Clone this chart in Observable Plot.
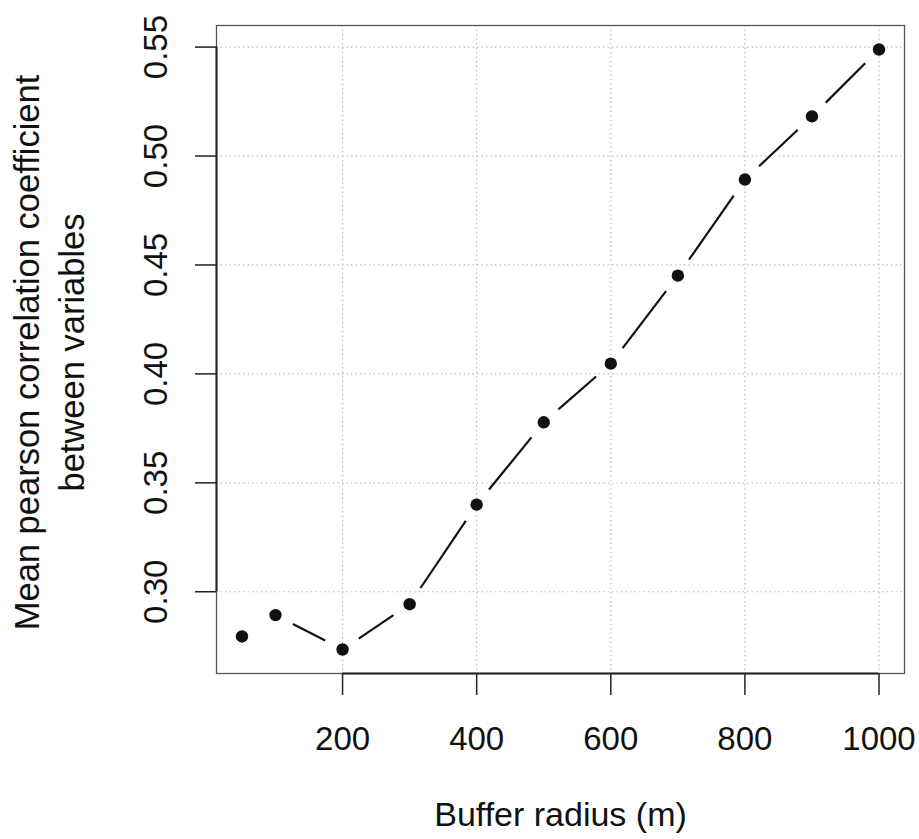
<!DOCTYPE html>
<html>
<head>
<meta charset="utf-8">
<script src="https://cdn.jsdelivr.net/npm/d3@7"></script>
<script src="https://cdn.jsdelivr.net/npm/@observablehq/plot@0.6"></script>
<style>
  html, body { margin: 0; padding: 0; background: #fff; }
  #chart { width: 919px; height: 839px; }
</style>
</head>
<body>
<div id="chart"></div>
<script>
// ---- data ----
const radius = [50, 100, 200, 300, 400, 500, 600, 700, 800, 900, 1000];
const meanCorr = [0.2795, 0.2893, 0.2735, 0.2943, 0.3400, 0.3778, 0.4047, 0.4451, 0.4892, 0.5182, 0.5489];
const xTicks = [200, 400, 600, 800, 1000];
const xTickLabels = ["200", "400", "600", "800", "1000"];
const yTicks = [0.30, 0.35, 0.40, 0.45, 0.50, 0.55];
const yTickLabels = ["0.30", "0.35", "0.40", "0.45", "0.50", "0.55"];
const xTitle = "Buffer radius (m)";
const yTitle = "Mean pearson correlation coefficient\nbetween variables";

// ---- derived tables ----
const points = radius.map((r, i) => ({r, v: meanCorr[i]}));
const segments = radius.slice(0, -1).map((r, i) => ({
  x1: r, y1: meanCorr[i], x2: radius[i + 1], y2: meanCorr[i + 1]
}));
const xTickData = xTicks.map((v, i) => ({v, label: xTickLabels[i]}));
const yTickData = yTicks.map((v, i) => ({v, label: yTickLabels[i]}));

// R-style 4% range extension
function ext(arr) {
  const lo = d3.min(arr), hi = d3.max(arr), d = (hi - lo) * 0.04;
  return [lo - d, hi + d];
}
const xDomain = ext(radius);
const yDomain = ext(meanCorr);

const font = "'Liberation Sans', Arial, Helvetica, sans-serif";
const ink = "#111";
const GAP = 19.5;

// shorten each segment by GAP pixels at both ends (like R type = "b")
function gapRender(index, scales, values, dimensions, context, next) {
  const {x1, y1, x2, y2} = values;
  const nx1 = Array.from(x1), ny1 = Array.from(y1), nx2 = Array.from(x2), ny2 = Array.from(y2);
  const keep = [];
  for (const i of index) {
    const dx = x2[i] - x1[i], dy = y2[i] - y1[i];
    const L = Math.hypot(dx, dy);
    if (L <= 2 * GAP + 3) continue;
    const ux = dx / L, uy = dy / L;
    nx1[i] = x1[i] + ux * GAP; ny1[i] = y1[i] + uy * GAP;
    nx2[i] = x2[i] - ux * GAP; ny2[i] = y2[i] - uy * GAP;
    keep.push(i);
  }
  return next(keep, scales, {...values, x1: nx1, y1: ny1, x2: nx2, y2: ny2}, dimensions, context);
}

const chart = Plot.plot({
  width: 919,
  height: 839,
  marginLeft: 216,
  marginRight: 15,
  marginTop: 25,
  marginBottom: 166,
  style: {fontFamily: font, fontSize: "33px", background: "#fff", color: ink},
  x: {domain: xDomain, axis: null},
  y: {domain: yDomain, axis: null},
  marks: [
    Plot.gridX(xTicks, {stroke: "#bdbdbd", strokeOpacity: 1, strokeWidth: 1.2, strokeDasharray: "1.5,3"}),
    Plot.gridY(yTicks, {stroke: "#bdbdbd", strokeOpacity: 1, strokeWidth: 1.2, strokeDasharray: "1.5,3"}),
    Plot.frame({stroke: "#555", strokeWidth: 1.3}),
    // axis lines (from first to last tick)
    Plot.ruleY([yDomain[0]], {x1: xTicks[0], x2: xTicks[xTicks.length - 1], stroke: "#222", strokeWidth: 2}),
    Plot.ruleX([xDomain[0]], {y1: yTicks[0], y2: yTicks[yTicks.length - 1], stroke: "#222", strokeWidth: 2}),
    // tick marks
    Plot.axisX(xTicks, {tickSize: 22, tickFormat: () => "", stroke: "#222", strokeWidth: 1.5, label: null}),
    Plot.axisY(yTicks, {tickSize: 21, tickFormat: () => "", stroke: "#222", strokeWidth: 1.5, label: null}),
    // tick labels
    Plot.text(xTickData, {x: "v", text: "label", frameAnchor: "bottom", dy: 76, lineAnchor: "bottom", textAnchor: "middle", fill: ink, fontSize: 33}),
    Plot.text(yTickData, {y: "v", text: "label", frameAnchor: "left", dx: -50, rotate: -90, lineAnchor: "bottom", textAnchor: "middle", fill: ink, fontSize: 33}),
    // axis titles
    Plot.text([xTitle], {frameAnchor: "bottom", dy: 152, lineAnchor: "bottom", textAnchor: "middle", fill: ink, fontSize: 34}),
    Plot.text([yTitle], {frameAnchor: "left", dx: -133, dy: 3, rotate: -90, lineAnchor: "bottom", textAnchor: "middle", lineHeight: 1.29, fill: ink, fontSize: 34.5}),
    // data
    Plot.link(segments, {x1: "x1", y1: "y1", x2: "x2", y2: "y2", stroke: ink, strokeWidth: 2.2, render: gapRender}),
    Plot.dot(points, {x: "r", y: "v", r: 6.2, fill: ink, stroke: null})
  ]
});
document.getElementById("chart").appendChild(chart);
</script>
</body>
</html>
